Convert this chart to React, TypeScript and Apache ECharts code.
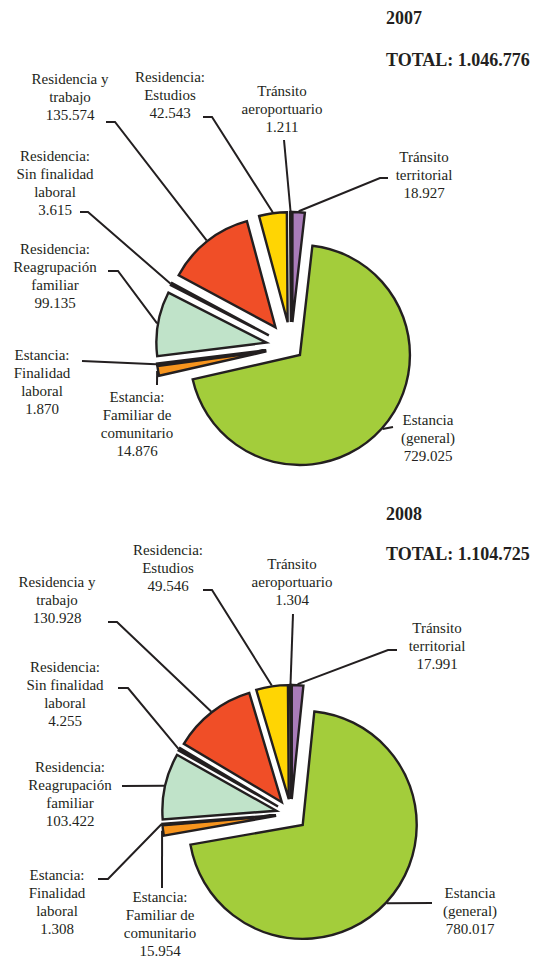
import React, { useEffect, useRef } from "react";
import * as echarts from "echarts";

// ---------- data ----------
const categories = [
  "Tránsito territorial",
  "Estancia (general)",
  "Estancia: Familiar de comunitario",
  "Estancia: Finalidad laboral",
  "Residencia: Reagrupación familiar",
  "Residencia: Sin finalidad laboral",
  "Residencia y trabajo",
  "Residencia: Estudios",
  "Tránsito aeroportuario",
];
const labelTexts = [
  ["Tránsito", "territorial"],
  ["Estancia", "(general)"],
  ["Estancia:", "Familiar de", "comunitario"],
  ["Estancia:", "Finalidad", "laboral"],
  ["Residencia:", "Reagrupación", "familiar"],
  ["Residencia:", "Sin finalidad", "laboral"],
  ["Residencia y", "trabajo"],
  ["Residencia:", "Estudios"],
  ["Tránsito", "aeroportuario"],
];
const years = ["2007", "2008"];
const values2007 = [18927, 729025, 14876, 1870, 99135, 3615, 135574, 42543, 1211];
const values2008 = [17991, 780017, 15954, 1308, 103422, 4255, 130928, 49546, 1304];
const MAIN = 1;

// ---------- styles / layout ----------
const colors = ["#a97cb9", "#a3cd3b", "#f7941d", "#231f20", "#c0e3c9", "#231f20", "#f04e27", "#ffd503", "#231f20"];
const INK = "#231f20";
const SERIF = "'Liberation Serif', 'Times New Roman', Times, 'DejaVu Serif', serif";
const LH = 18;

type LabelPos = { x: number; y: number; line: number[][] };
type Layout = {
  center: number[];
  radius: number;
  mainOffset: number;
  sliceOffset: number;
  yearPos: number[];
  totalPos: number[];
  labels: LabelPos[];
};

const layouts: Layout[] = [
  {
    center: [291, 347],
    radius: 110,
    mainOffset: 12,
    sliceOffset: 25,
    yearPos: [386, 18],
    totalPos: [386, 60],
    labels: [
      { x: 424, y: 157, line: [[388, 178], [380, 178]] },
      { x: 428, y: 420, line: [[393, 427]] },
      { x: 137, y: 397, line: [[157, 385]] },
      { x: 42, y: 355, line: [[82, 361]] },
      { x: 55, y: 249, line: [[108, 271], [118, 271]] },
      { x: 55, y: 156, line: [[80, 212], [88, 212]] },
      { x: 70, y: 79, line: [[106, 122], [115, 122]] },
      { x: 170, y: 77, line: [[203, 117], [212, 117]] },
      { x: 282, y: 91, line: [[284, 140]] },
    ],
  },
  {
    center: [291, 814],
    radius: 114,
    mainOffset: 16,
    sliceOffset: 15,
    yearPos: [386, 514],
    totalPos: [386, 554],
    labels: [
      { x: 437, y: 628, line: [[397, 650], [388, 650]] },
      { x: 470, y: 893, line: [[432, 903]] },
      { x: 160, y: 897, line: [[162, 888]] },
      { x: 57, y: 875, line: [[98, 879], [108, 879]] },
      { x: 70, y: 767, line: [[122, 786]] },
      { x: 65, y: 667, line: [[118, 688], [128, 688]] },
      { x: 57, y: 582, line: [[108, 622], [117, 622]] },
      { x: 168, y: 550, line: [[203, 590], [212, 590]] },
      { x: 292, y: 564, line: [[293, 614]] },
    ],
  },
];

const fmt = (n: number) => String(n).replace(/\B(?=(\d{3})+(?!\d))/g, ".");

function anchorsFor(values: number[], L: Layout) {
  const total = values.reduce((a, b) => a + b, 0);
  let acc = 0;
  return values.map((v, i) => {
    const mid = ((acc + v / 2) / total) * Math.PI * 2;
    acc += v;
    const r = L.radius + (i === MAIN ? L.mainOffset : L.sliceOffset) + 1;
    return [L.center[0] + r * Math.sin(mid), L.center[1] - r * Math.cos(mid)];
  });
}

function pieSeries(values: number[], L: Layout, main: boolean) {
  return {
    type: "pie",
    center: L.center,
    radius: [0, L.radius],
    startAngle: 90,
    clockwise: true,
    selectedMode: "multiple",
    selectedOffset: main ? L.mainOffset : L.sliceOffset,
    silent: true,
    avoidLabelOverlap: false,
    label: { show: false },
    labelLine: { show: false },
    emphasis: { disabled: true, scale: false },
    select: { itemStyle: { borderColor: INK, borderWidth: 2.4 } },
    data: values.map((v, i) => {
      const visible = (i === MAIN) === main;
      return {
        name: categories[i],
        value: v,
        selected: visible,
        itemStyle: visible
          ? { color: colors[i], borderColor: INK, borderWidth: 2.4, borderJoin: "miter" }
          : { color: "rgba(0,0,0,0)", borderWidth: 0 },
      };
    }),
  };
}

function textEl(x: number, y: number, text: string, size: number, bold: boolean, align: string) {
  return {
    type: "text",
    x,
    y,
    silent: true,
    z: 10,
    style: {
      text,
      font: (bold ? "bold " : "") + size + "px " + SERIF,
      fill: INK,
      align,
      verticalAlign: "middle",
    },
  };
}

export default function App() {
  const ref = useRef<HTMLDivElement>(null);
  useEffect(() => {
    if (!ref.current) return;
    const chart = echarts.init(ref.current, undefined, { renderer: "svg" });
    const series: any[] = [];
    const graphics: any[] = [];
    [values2007, values2008].forEach((values, k) => {
      const L = layouts[k];
      series.push(pieSeries(values, L, true));
      series.push(pieSeries(values, L, false));
      const total = values.reduce((a, b) => a + b, 0);
      graphics.push(textEl(L.yearPos[0], L.yearPos[1], years[k], 18, true, "left"));
      graphics.push(textEl(L.totalPos[0], L.totalPos[1], "TOTAL: " + fmt(total), 18, true, "left"));
      const anchors = anchorsFor(values, L);
      values.forEach((v, i) => {
        const lp = L.labels[i];
        const lines = [...labelTexts[i], fmt(v)];
        lines.forEach((t, j) => graphics.push(textEl(lp.x, lp.y + j * LH, t, 15, false, "center")));
        graphics.push({
          type: "polyline",
          silent: true,
          z: 10,
          shape: { points: [...lp.line, anchors[i]] },
          style: { stroke: INK, lineWidth: 2, fill: "none" },
        });
      });
    });
    chart.setOption({
      animation: false,
      backgroundColor: "#ffffff",
      series,
      graphic: { elements: graphics },
    });
    return () => chart.dispose();
  }, []);
  return <div ref={ref} style={{ position: "fixed", left: 0, top: 0, width: 536, height: 958 }} />;
}
